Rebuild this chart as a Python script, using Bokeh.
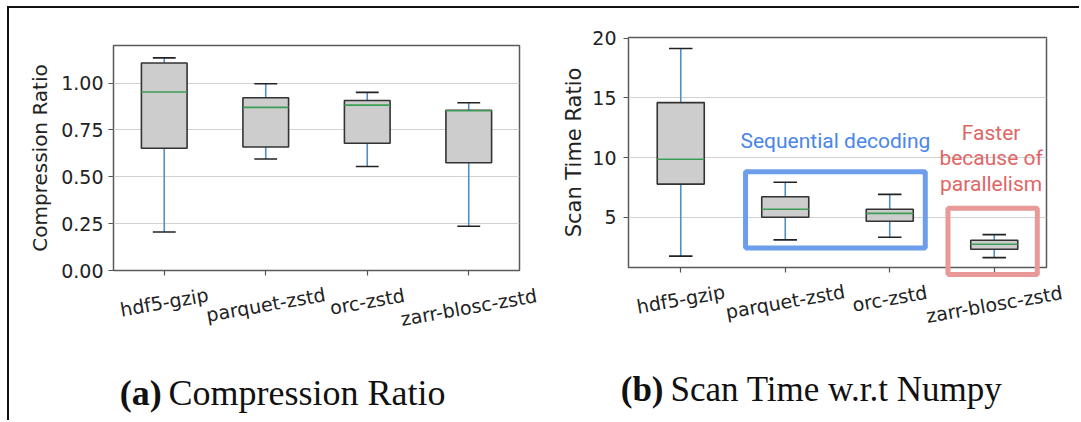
import numpy as np
from bokeh.plotting import figure
from bokeh.models import (ColumnDataSource, Range1d, FixedTicker, Label,
                          BoxAnnotation, NumeralTickFormatter)
from bokeh.layouts import row, column
from bokeh.embed import file_html
from bokeh.resources import INLINE
from bokeh.core.properties import value

# ---------------- data ----------------
categories = ["hdf5-gzip", "parquet-zstd", "orc-zstd", "zarr-blosc-zstd"]

# (a) Compression ratio: whisker low, Q1, median, Q3, whisker high
cr_min = [0.205, 0.595, 0.555, 0.236]
cr_q1 = [0.652, 0.659, 0.679, 0.575]
cr_med = [0.952, 0.870, 0.882, 0.852]
cr_q3 = [1.107, 0.921, 0.907, 0.855]
cr_max = [1.134, 0.996, 0.950, 0.895]
cr_ticks = [0.0, 0.25, 0.5, 0.75, 1.0]

# (b) Scan time ratio w.r.t. numpy
st_min = [1.75, 3.11, 3.33, 1.63]
st_q1 = [7.78, 5.00, 4.67, 2.33]
st_med = [9.86, 5.67, 5.33, 2.75]
st_q3 = [14.60, 6.72, 5.67, 3.08]
st_max = [19.13, 7.94, 6.92, 3.55]
st_ticks = [5, 10, 15, 20]

seq_text = "Sequential decoding"
par_lines = ["Faster", "because of", "parallelism"]
caption_a = ("(a)", "Compression Ratio")
caption_b = ("(b)", "Scan Time w.r.t Numpy")

# ---------------- styling ----------------
BOX_W = 0.45
CAP_W = BOX_W / 2
TICK_FS = 19
ANGLE = np.deg2rad(10)
H = 412


def make_panel(width, mb_left, mb_right, mb_top, frame_h, yr, yticks, fmt, ylabel,
               lo, q1, med, q3, hi, label_fs, label_standoff, tick_standoff):
    pos = [i + 1 for i in range(len(categories))]
    p = figure(width=width, height=H, x_range=Range1d(0.5, len(categories) + 0.5),
               y_range=Range1d(*yr), output_backend="svg", toolbar_location=None,
               min_border_left=mb_left, min_border_right=mb_right,
               min_border_top=mb_top, min_border_bottom=H - mb_top - frame_h)
    p.background_fill_color = "white"
    p.border_fill_color = "white"
    p.outline_line_color = "#5a5a5a"
    p.outline_line_width = 1.5
    p.xgrid.visible = False
    p.ygrid.grid_line_color = "#d2d2d2"
    p.ygrid.grid_line_width = 1.2

    p.yaxis.ticker = FixedTicker(ticks=yticks)
    p.yaxis.formatter = NumeralTickFormatter(format=fmt)
    p.xaxis.ticker = FixedTicker(ticks=pos)
    p.xaxis.major_label_overrides = {k: "" for k in pos}
    for ax in (p.xaxis[0], p.yaxis[0]):
        ax.axis_line_color = None
        ax.major_tick_in = 0
        ax.major_tick_out = 5
        ax.major_tick_line_color = "#555555"
        ax.major_tick_line_width = 1.2
        ax.minor_tick_line_color = None
        ax.major_label_text_font = "DejaVu Sans"
        ax.major_label_text_font_size = f"{TICK_FS}px"
        ax.major_label_text_color = "#222222"
        ax.major_label_standoff = tick_standoff
    p.yaxis.axis_label = ylabel
    p.yaxis.axis_label_text_font = "DejaVu Sans"
    p.yaxis.axis_label_text_font_size = f"{label_fs}px"
    p.yaxis.axis_label_text_font_style = "normal"
    p.yaxis.axis_label_text_color = "#222222"
    p.yaxis.axis_label_standoff = label_standoff

    src = ColumnDataSource(dict(
        x=pos, lo=lo, q1=q1, med=med, q3=q3, hi=hi,
        bl=[x - BOX_W / 2 for x in pos], br=[x + BOX_W / 2 for x in pos],
        cl=[x - CAP_W / 2 for x in pos], cr=[x + CAP_W / 2 for x in pos],
    ))
    wc = "#4f8fc6"
    p.segment(x0="x", y0="q3", x1="x", y1="hi", source=src, line_color=wc, line_width=1.6)
    p.segment(x0="x", y0="q1", x1="x", y1="lo", source=src, line_color=wc, line_width=1.6)
    p.quad(left="bl", right="br", bottom="q1", top="q3", source=src,
           fill_color="#cdcdcd", line_color="#333333", line_width=1.6)
    p.segment(x0="bl", y0="med", x1="br", y1="med", source=src,
              line_color="#3c9e55", line_width=1.6)
    p.segment(x0="cl", y0="hi", x1="cr", y1="hi", source=src, line_color="#222222", line_width=1.6)
    p.segment(x0="cl", y0="lo", x1="cr", y1="lo", source=src, line_color="#222222", line_width=1.6)

    # category labels rotated 10 degrees, centred under each tick (matplotlib style)
    ppu = frame_h / (yr[1] - yr[0])
    ys = [yr[0] - (24.0 + 0.5 * len(c) * 0.51 * TICK_FS * np.sin(ANGLE)) / ppu
          for c in categories]
    p.text(x=pos, y=ys, text=categories, angle=ANGLE, text_align="center",
           text_baseline="middle", text_font=value("DejaVu Sans"),
           text_font_size=f"{TICK_FS}px", text_color="#222222", level="overlay")
    return p, ppu


def add_caption(p, ppu, y0, caption, x_tag_end, x_rest, fs, below_px):
    yc = y0 - below_px / ppu
    p.text(x=[x_tag_end], y=[yc], text=[caption[0]], text_align="right",
           text_baseline="alphabetic", text_font=value("Liberation Serif"),
           text_font_size=f"{fs}px", text_font_style="bold", text_color="#111111",
           level="overlay")
    p.text(x=[x_rest], y=[yc], text=[caption[1]], text_align="left",
           text_baseline="alphabetic", text_font=value("Liberation Serif"),
           text_font_size=f"{fs}px", text_color="#111111", level="overlay")


p1, ppu1 = make_panel(546, 104, 36, 37, 225, (0.0, 1.2), cr_ticks, "0.00",
                      "Compression Ratio", cr_min, cr_q1, cr_med, cr_q3, cr_max, 20, 6, 5)
p2, ppu2 = make_panel(524, 73, 33, 29, 230, (0.8, 20.05), st_ticks, "0",
                      "Scan Time Ratio", st_min, st_q1, st_med, st_q3, st_max, 21, 3, 7)

# annotations on panel (b)
p2.add_layout(BoxAnnotation(left=1.62, right=3.34, bottom=2.43, top=8.82,
                            fill_color=None, fill_alpha=0, line_color="#6d9eeb",
                            line_alpha=1.0, line_width=5))
p2.quad(left=[3.557], right=[4.412], bottom=[0.21], top=[5.76], fill_color=None,
        line_color="#ea9999", line_width=5, level="overlay")
p2.add_layout(Label(x=2.48, y=11.38, text=seq_text, text_align="center", text_baseline="middle",
                    text_font="Roboto", text_font_size="21px", text_color="#4a86e8"))
for i, t in enumerate(par_lines):
    p2.add_layout(Label(x=3.97, y=12.08 - i * 2.15, text=t, text_align="center",
                        text_baseline="middle", text_font="Roboto", text_font_size="21px",
                        text_color="#e06666"))

add_caption(p1, ppu1, 0.0, caption_a, 0.975, 1.042, 36, 122)
add_caption(p2, ppu2, 0.8, caption_b, 0.835, 0.902, 35, 122)

layout = row(column(p1), column(p2),
             styles={"border-left": "2px solid #111111", "border-top": "2px solid #111111",
                     "margin-left": "7px", "margin-top": "6px"})

open("out.html", "w").write(file_html(layout, INLINE))
